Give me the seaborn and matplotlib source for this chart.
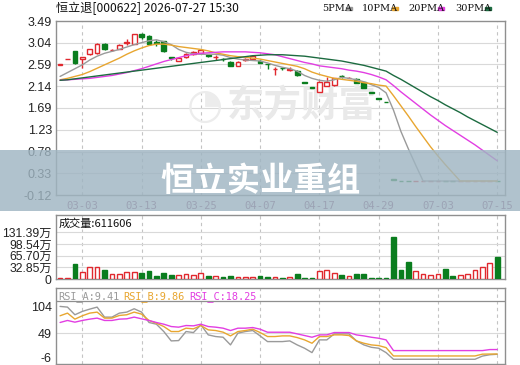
import numpy as np
import pandas as pd
import matplotlib
matplotlib.use("Agg")
import matplotlib.pyplot as plt
from matplotlib.patches import Rectangle
import seaborn as sns

# ---------------- data ----------------
opens = [2.58, 2.70, 2.86, 2.70, 2.80, 2.82, 3.01, 2.88, 2.90, 3.04,
         3.01, 3.22, 3.17, 3.06, 3.07, 2.74, 2.66, 2.75, 2.80, 2.82,
         2.78, 2.74, 2.71, 2.64, 2.56, 2.69, 2.70, 2.67, 2.60, 2.49,
         2.52, 2.47, 2.46, 2.22, 2.12, 2.02, 2.14, 2.16, 2.35, 2.31,
         2.29, 2.23, 2.01, 1.89, 1.81, 0.21, 0.18, 0.18, 0.17, 0.17,
         0.17, 0.17, 0.18, 0.18, 0.17, 0.17, 0.17, 0.17, 0.17, 0.18]
highs = [2.59, 2.71, 2.87, 2.75, 2.91, 3.03, 3.04, 2.90, 3.01, 3.11,
         3.22, 3.25, 3.19, 3.10, 3.08, 2.75, 2.74, 2.82, 2.87, 2.91,
         2.78, 2.78, 2.73, 2.65, 2.65, 2.73, 2.78, 2.68, 2.60, 2.54,
         2.54, 2.54, 2.47, 2.22, 2.12, 2.24, 2.33, 2.31, 2.38, 2.32,
         2.30, 2.23, 2.01, 1.89, 1.81, 0.21, 0.18, 0.18, 0.17, 0.17,
         0.17, 0.17, 0.18, 0.18, 0.17, 0.17, 0.17, 0.17, 0.17, 0.18]
lows = [2.58, 2.70, 2.60, 2.52, 2.79, 2.81, 2.89, 2.86, 2.90, 2.99,
        3.01, 3.12, 2.99, 2.98, 2.84, 2.68, 2.65, 2.72, 2.78, 2.81,
        2.74, 2.68, 2.66, 2.55, 2.55, 2.67, 2.69, 2.61, 2.50, 2.36,
        2.47, 2.46, 2.35, 2.21, 2.11, 2.02, 2.14, 2.15, 2.31, 2.31,
        2.21, 2.09, 2.00, 1.88, 1.80, 0.20, 0.17, 0.17, 0.17, 0.17,
        0.17, 0.17, 0.17, 0.17, 0.17, 0.17, 0.17, 0.17, 0.17, 0.17]
closes = [2.59, 2.71, 2.62, 2.74, 2.90, 3.02, 2.91, 2.88, 3.00, 3.06,
          3.21, 3.15, 3.02, 3.04, 2.86, 2.73, 2.72, 2.80, 2.84, 2.88,
          2.77, 2.75, 2.70, 2.56, 2.64, 2.70, 2.77, 2.62, 2.59, 2.50,
          2.51, 2.50, 2.37, 2.21, 2.11, 2.23, 2.23, 2.30, 2.34, 2.31,
          2.21, 2.10, 2.00, 1.88, 1.80, 0.20, 0.17, 0.17, 0.17, 0.17,
          0.17, 0.17, 0.17, 0.17, 0.17, 0.17, 0.17, 0.17, 0.17, 0.17]
volumes = [2.8, 2.8, 42, 20.5, 32.8, 32.8, 25, 13, 13, 19,
           19, 18, 22, 9, 18, 11, 11, 13, 11, 18,
           9, 9, 7, 8, 5, 7, 5, 8, 6, 6,
           3, 6, 14, 3.5, 3.5, 23, 25, 17, 11, 8,
           14, 14, 3.5, 3.5, 3.5, 118.8, 25, 48.6, 22.5, 13,
           11, 14, 28, 8, 11, 14, 25, 33, 46, 61.16]
ma5 = [2.34, 2.42, 2.50, 2.58, 2.68, 2.76, 2.82, 2.86, 2.90, 2.95,
       3.00, 3.04, 3.08, 3.10, 3.06, 3.00, 2.90, 2.84, 2.81, 2.80,
       2.80, 2.80, 2.78, 2.73, 2.70, 2.68, 2.67, 2.66, 2.62, 2.57,
       2.53, 2.50, 2.45, 2.36, 2.30, 2.26, 2.24, 2.27, 2.32, 2.30,
       2.27, 2.23, 2.17, 2.11, 2.00, 1.64, 1.20, 0.84, 0.50, 0.17,
       0.17, 0.17, 0.17, 0.17, 0.17, 0.17, 0.17, 0.17, 0.17, 0.17]
ma10 = [2.27, 2.30, 2.34, 2.38, 2.44, 2.51, 2.58, 2.65, 2.72, 2.80,
        2.87, 2.93, 2.98, 3.01, 3.01, 2.99, 2.96, 2.94, 2.92, 2.90,
        2.87, 2.83, 2.80, 2.77, 2.75, 2.74, 2.72, 2.70, 2.67, 2.64,
        2.61, 2.58, 2.55, 2.50, 2.43, 2.38, 2.34, 2.30, 2.28, 2.26,
        2.24, 2.21, 2.19, 2.16, 2.14, 1.94, 1.73, 1.52, 1.30, 1.09,
        0.88, 0.69, 0.51, 0.34, 0.17, 0.17, 0.17, 0.17, 0.17, 0.17]
ma20 = [2.26, 2.27, 2.28, 2.29, 2.30, 2.32, 2.34, 2.36, 2.39, 2.42,
        2.46, 2.50, 2.55, 2.60, 2.65, 2.69, 2.73, 2.77, 2.80, 2.82,
        2.83, 2.84, 2.85, 2.85, 2.85, 2.85, 2.84, 2.83, 2.81, 2.79,
        2.75, 2.71, 2.67, 2.63, 2.60, 2.56, 2.54, 2.52, 2.50, 2.47,
        2.45, 2.42, 2.38, 2.33, 2.27, 2.15, 2.02, 1.90, 1.78, 1.66,
        1.54, 1.43, 1.32, 1.22, 1.12, 1.02, 0.92, 0.81, 0.70, 0.59]
ma30 = [2.26, 2.27, 2.29, 2.31, 2.33, 2.35, 2.37, 2.39, 2.41, 2.43,
        2.45, 2.47, 2.49, 2.51, 2.53, 2.55, 2.57, 2.59, 2.61, 2.63,
        2.65, 2.67, 2.69, 2.71, 2.73, 2.75, 2.77, 2.78, 2.79, 2.79,
        2.79, 2.78, 2.77, 2.76, 2.74, 2.72, 2.70, 2.68, 2.66, 2.63,
        2.60, 2.57, 2.53, 2.49, 2.45, 2.36, 2.28, 2.19, 2.10, 2.01,
        1.92, 1.84, 1.75, 1.67, 1.59, 1.50, 1.42, 1.34, 1.26, 1.18]
rsi_a = [99.3, 98.0, 83.6, 89.9, 94.2, 98.0, 79.2, 79.2, 86.7, 88.6,
         94.9, 88.6, 69.1, 65.9, 52.1, 34.5, 35.1, 52.1, 50.2, 64.7,
         45.8, 42.7, 41.4, 27.0, 49.0, 52.1, 54.0, 43.9, 33.2, 33.2,
         33.2, 34.5, 27.0, 20.7, 12.5, 36.4, 36.4, 47.7, 47.7, 47.7,
         34.5, 27.0, 22.5, 20.7, 12.5, 0.0, 0.0, 0.0, 0.0, 0.0,
         0.0, 0.0, 0.0, 0.0, 0.0, 0.0, 0.0, 6.0, 8.5, 9.41]
rsi_b = [81.7, 86.7, 75.4, 81.7, 86.7, 88.6, 77.3, 77.3, 82.3, 83.6,
         88.6, 84.8, 72.9, 67.8, 61.5, 52.1, 52.1, 58.4, 57.1, 63.4,
         55.2, 54.0, 50.9, 43.9, 52.1, 54.0, 56.5, 50.2, 42.7, 42.7,
         43.9, 43.9, 40.8, 36.4, 30.1, 42.7, 42.7, 45.8, 45.8, 44.6,
         34.5, 30.1, 27.0, 25.7, 21.9, 6.2, 6.2, 6.2, 6.2, 6.2,
         6.2, 6.2, 6.2, 6.2, 6.2, 6.2, 6.2, 9.6, 9.8, 9.86]
rsi_c = [69.1, 72.9, 69.7, 72.9, 75.4, 77.3, 72.9, 72.9, 75.4, 76.0,
         79.2, 76.0, 72.9, 69.1, 65.9, 61.5, 60.3, 63.4, 62.8, 65.9,
         61.5, 60.3, 58.4, 54.0, 58.4, 58.4, 59.6, 56.5, 50.8, 50.8,
         50.8, 50.8, 47.7, 44.6, 41.4, 45.8, 45.8, 50.2, 50.2, 50.2,
         45.8, 43.9, 41.4, 39.5, 36.4, 16.3, 16.3, 16.3, 16.3, 16.3,
         16.3, 16.3, 16.3, 16.3, 16.3, 16.3, 16.3, 16.3, 18.2, 18.25]
date_pos = [3, 11, 19, 27, 35, 43, 51, 59]
date_labels = ["03-03", "03-13", "03-25", "04-07", "04-17", "04-29", "07-03", "07-15"]
price_ticks = [3.49, 3.04, 2.59, 2.14, 1.69, 1.23, 0.78, 0.33, -0.12]
vol_ticks = [0, 32.85, 65.70, 98.54, 131.39]
vol_tick_labels = ["0", "32.85万", "65.70万", "98.54万", "131.39万"]
rsi_tick_labels = ["-6", "49", "104"]
title_text = "恒立退[000622] 2026-07-27 15:30"
vol_title = "成交量:611606"
rsi_names = ["RSI_A", "RSI_B", "RSI_C"]
ma_names = ["5PMA", "10PMA", "20PMA", "30PMA"]
banner_text = "恒立实业重组"
watermark = "东方财富"

# ---------------- style ----------------
sns.set_theme(style="white")
plt.rcParams["font.family"] = ["Liberation Sans", "Noto Sans CJK SC", "DejaVu Sans"]
CJK = ["Noto Sans CJK SC", "DejaVu Sans"]

RED = "#e0282e"
GREEN = "#0a7d1e"
C5, C10, C20, C30 = "#9a9a9a", "#e8a630", "#e23ee2", "#1c6b40"
GRID = "#d9d9d9"
VGRID = "#c4c4c4"
SPINE = "#8f8f8f"
DATE_C = "#8c4f77"

df = pd.DataFrame({"i": np.arange(len(closes)), "open": opens, "high": highs,
                   "low": lows, "close": closes, "vol": volumes,
                   "ma5": ma5, "ma10": ma10, "ma20": ma20, "ma30": ma30,
                   "rsi_a": rsi_a, "rsi_b": rsi_b, "rsi_c": rsi_c})
df["up"] = df["close"] >= df["open"]

W, H = 520, 365
fig = plt.figure(figsize=(W / 100, H / 100), dpi=100)
fig.patch.set_facecolor("white")
XL, XR = 56, 505


def add_ax(top, bottom):
    return fig.add_axes([XL / W, 1 - bottom / H, (XR - XL) / W, (bottom - top) / H])


ax1 = add_ax(21, 195)
ax2 = add_ax(215, 279)
ax3 = add_ax(288, 364)
xlim = (-0.55, 60.05)

for ax in (ax1, ax2, ax3):
    ax.set_xlim(*xlim)
    ax.set_facecolor("white")
    for s in ax.spines.values():
        s.set_color(SPINE)
        s.set_linewidth(1.0)
    for p in date_pos:
        ax.axvline(p, color=VGRID, lw=0.8, ls=(0, (3, 3)), zorder=0.5)
    ax.tick_params(axis="both", length=0, pad=3)

# ----- price panel -----
ax1.set_ylim(-0.12, 3.49)
ax1.set_yticks(price_ticks)
ax1.set_yticklabels([f"{v:.2f}" for v in price_ticks], fontsize=9, color="#222222")
for v in price_ticks[1:-1]:
    ax1.axhline(v, color=GRID, lw=0.8, zorder=0.5)
ax1.set_xticks(date_pos)
ax1.set_xticklabels(date_labels, fontsize=7.6, color=DATE_C, family="DejaVu Sans Mono")
ax1.tick_params(axis="x", pad=4)

ax1.text(32.6, 1.72, watermark, fontsize=27, fontweight="bold", color="#e9e9e9",
         family=CJK, ha="center", va="center", style="italic", zorder=0.6)
ax1.text(19.5, 1.72, "\u25D4", fontsize=30, color="#ececec", family="DejaVu Sans",
         ha="center", va="center", zorder=0.6)

bw = 0.64
for _, r in df.iterrows():
    col = RED if r["up"] else GREEN
    ax1.vlines(r["i"], r["low"], r["high"], color=col, lw=1.0, zorder=3)
    lo = min(r["open"], r["close"])
    h = max(abs(r["close"] - r["open"]), 0.004)
    ax1.bar(r["i"], h, bottom=lo, width=bw, color="white" if r["up"] else col,
            edgecolor=col, linewidth=1.0, zorder=4)

for key, col in zip(["ma5", "ma10", "ma20", "ma30"], [C5, C10, C20, C30]):
    sns.lineplot(data=df, x="i", y=key, ax=ax1, color=col, lw=1.0, legend=False,
                 zorder=5, estimator=None)
ax1.set_xlabel("")
ax1.set_ylabel("")
ax1.set_xlim(*xlim)

# ----- volume panel -----
ax2.set_ylim(0, 180.1)
ax2.set_yticks(vol_ticks)
ax2.set_yticklabels(vol_tick_labels, fontsize=8.7, color="#222222")
for v in vol_ticks[1:]:
    ax2.axhline(v, color=GRID, lw=0.8, zorder=0.5)
ax2.set_xticks([])
for _, r in df.iterrows():
    col = RED if r["up"] else GREEN
    ax2.bar(r["i"], r["vol"], width=bw, color="white" if r["up"] else col,
            edgecolor=col, linewidth=1.0, zorder=3)
ax2.text(0.005, 0.86, vol_title, transform=ax2.transAxes, fontsize=8,
         family=CJK, color="#111111", va="center", ha="left")
ax2.set_xlabel("")
ax2.set_ylabel("")

# ----- RSI panel -----
ax3.set_ylim(-8.9, 133.9)
# label positions follow the reference's printed scale labels
ax3.set_yticks([3.5, 49, 99.2])
ax3.set_yticklabels(rsi_tick_labels, fontsize=9, color="#222222")
ax3.axhline(49, color=GRID, lw=0.8, zorder=0.5)
ax3.axhline(108.6, color=SPINE, lw=0.9, zorder=0.6)
ax3.set_xticks([])
for key, col in zip(["rsi_a", "rsi_b", "rsi_c"], [C5, C10, C20]):
    sns.lineplot(data=df, x="i", y=key, ax=ax3, color=col, lw=1.0, legend=False,
                 zorder=5, estimator=None)
ax3.set_xlabel("")
ax3.set_ylabel("")
ax3.set_xlim(*xlim)
rsi_last = [rsi_a[-1], rsi_b[-1], rsi_c[-1]]
xs = [0.005, 0.149, 0.296]
for name, val, col, xx in zip(rsi_names, rsi_last, [C5, C10, C20], xs):
    ax3.text(xx, 0.885, f"{name}:{val:.2f}", transform=ax3.transAxes, fontsize=7.4,
             family="DejaVu Sans Mono", color=col, va="center", ha="left")

# ----- header -----
fig.text(56 / W, 1 - 8 / H, title_text, fontsize=8.7, family=CJK, color="#111111",
         va="center", ha="left")
leg_x = [322, 362, 408, 455]
for name, col, lx in zip(ma_names, [C5, C10, C20, C30], leg_x):
    fig.text(lx / W, 1 - 8.5 / H, name, fontsize=7, family="DejaVu Serif",
             color="#111111", va="center", ha="left")
    fig.patches.append(Rectangle(((lx + 6.0 * len(name)) / W, 1 - 10 / H), 6 / W, 3 / H,
                                 transform=fig.transFigure, color=col, zorder=3))

# ----- banner overlay -----
fig.patches.append(Rectangle((0, 1 - 211 / H), 1, 61 / H, transform=fig.transFigure,
                             facecolor="#9fb5c2", alpha=0.82, edgecolor="none", zorder=10))
fig.text(260 / W, 1 - 182 / H, banner_text, fontsize=24, fontweight="bold",
         family=CJK, color="white", ha="center", va="center", zorder=11)

fig.savefig("out.png", dpi=100, facecolor="white")
